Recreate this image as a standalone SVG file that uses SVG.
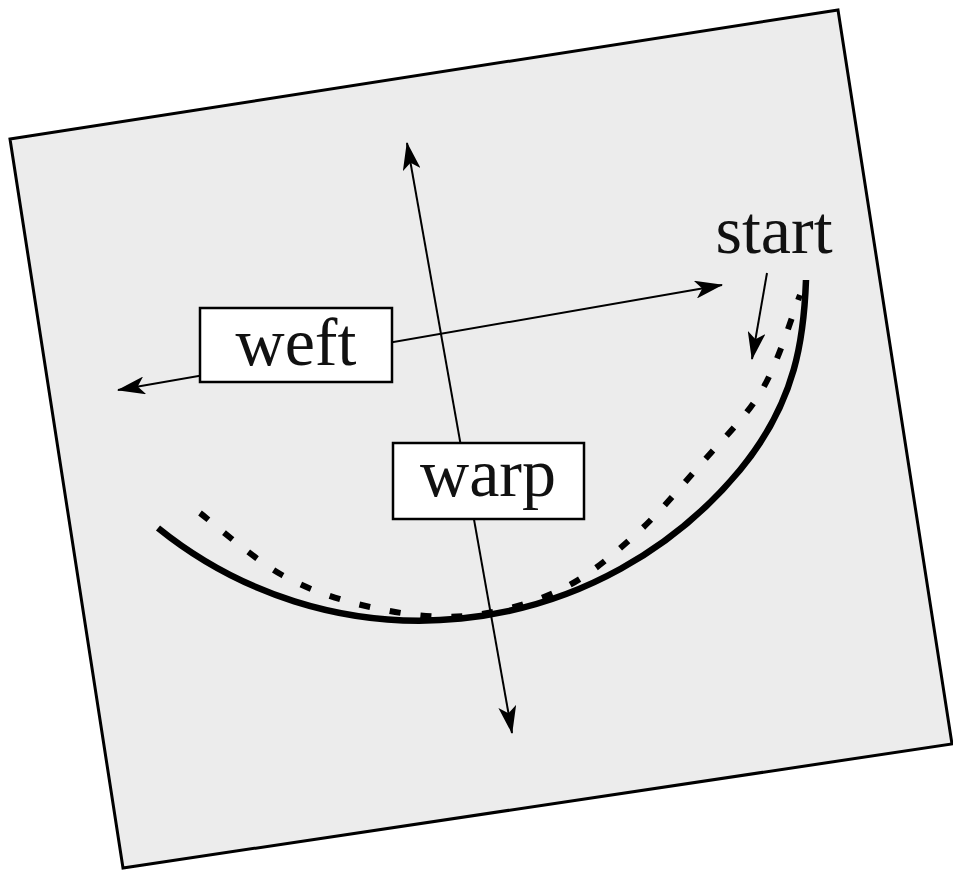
<svg xmlns="http://www.w3.org/2000/svg" width="953" height="877" viewBox="0 0 953 877">
<style>
.lbl{font-family:"Liberation Serif","Times New Roman",serif;font-size:68px;fill:#111;text-anchor:middle}
.box{fill:#fff;stroke:#000;stroke-width:2.5}
.ax{fill:none;stroke:#000;stroke-width:2}
.curve{fill:none;stroke:#000;stroke-width:6.5}
.dash{fill:none;stroke:#000;stroke-width:6;stroke-dasharray:11 20}
</style>
<defs>
<marker id="ah" viewBox="0 0 28 18" refX="27" refY="9" markerWidth="28" markerHeight="18" markerUnits="userSpaceOnUse" orient="auto-start-reverse">
<path d="M0,0 L28,9 L0,18 L7,9 z" fill="#000"/>
</marker>
</defs>
<g id="sheet">
<polygon points="10,139 838,10 952,744 123,868" fill="#ececec" stroke="#000" stroke-width="3" stroke-linejoin="miter"/>
</g>
<g id="connectors">
<path id="solid-path" class="curve" d="M158,528 A416,416 0 0 0 740,470 C797.3,400.6 804,335 806,280"/>
<path id="dashed-path" class="dash" d="M200,513 C213.7,523.3 253.7,559.3 282,575 C310.3,590.7 339.5,600.2 370,607 C400.5,613.8 433.3,618.8 465,616 C496.7,613.2 531.7,603.5 560,590 C588.3,576.5 611.7,555.8 635,535 C658.3,514.2 678.8,489.2 700,465 C721.2,440.8 745.3,418.3 762,390 C778.7,361.7 793.7,310.8 800,295"/>
<line id="weft-axis" class="ax" x1="118" y1="390" x2="722" y2="285" marker-start="url(#ah)" marker-end="url(#ah)"/>
<line id="warp-axis" class="ax" x1="407" y1="143" x2="512" y2="733" marker-start="url(#ah)" marker-end="url(#ah)"/>
<line id="start-arrow" class="ax" x1="767" y1="273" x2="752" y2="359" marker-end="url(#ah)"/>
</g>
<g id="weft">
<rect class="box" x="200" y="308" width="192" height="74"/>
<text class="lbl" x="296" y="365">weft</text>
</g>
<g id="warp">
<rect class="box" x="393" y="443" width="191" height="76"/>
<text class="lbl" x="488" y="496">warp</text>
</g>
<g id="start">
<text class="lbl" x="774" y="253">start</text>
</g>
</svg>
